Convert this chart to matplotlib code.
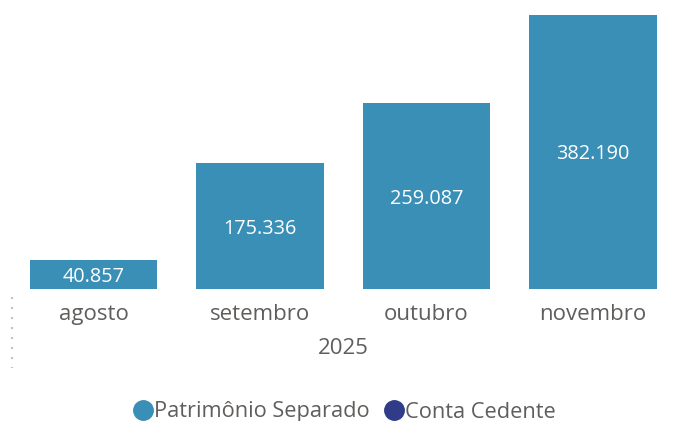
import matplotlib
matplotlib.use('Agg')
import matplotlib.pyplot as plt
from matplotlib.lines import Line2D

plt.rcParams['font.family'] = ['Open Sans', 'DejaVu Sans']

meses = ['agosto', 'setembro', 'outubro', 'novembro']
patrimonio = [40857, 175336, 259087, 382190]
ano = '2025'
series = ['Patrimônio Separado', 'Conta Cedente']
cores = ['#3A8FB6', '#313C88']
cinza = '#605E5C'

fig = plt.figure(figsize=(6.77, 4.21), dpi=100)
ax = fig.add_axes([10.25 / 677, 1 - 289 / 421, 666 / 677, 286.8 / 421])

x = range(len(meses))
bars = ax.bar(x, patrimonio, width=0.765, color=cores[0])
for b, v in zip(bars, patrimonio):
    txt = f'{v:,}'.replace(',', '.')
    ax.text(b.get_x() + b.get_width() / 2, v / 2, txt, ha='center', va='center_baseline',
            color='white', fontsize=14.3)

ax.set_xlim(-0.5, 3.5)
ax.set_ylim(0, 400000)
ax.set_xticks(list(x))
ax.set_xticklabels(meses, fontsize=16, color=cinza)
ax.tick_params(axis='x', length=0, pad=11)
ax.set_yticks([])
for s in ax.spines.values():
    s.set_visible(False)

fig.text(343 / 677, 1 - 349 / 421, ano, ha='center', va='center', fontsize=16, color=cinza)

# linha pontilhada à esquerda
fig.add_artist(Line2D([12 / 677, 12 / 677], [1 - 297 / 421, 1 - 368 / 421],
                      transform=fig.transFigure, color='#C0C0C0', lw=1.5,
                      linestyle=(0, (1, 3.8))))

# legenda
handles = [Line2D([], [], marker='o', linestyle='', markersize=14, color=c) for c in cores]
fig.legend(handles, series, loc='center', bbox_to_anchor=(343 / 677, 1 - 412 / 421),
           ncol=2, frameon=False, fontsize=15.7, labelcolor=cinza,
           handletextpad=-0.1, columnspacing=0.5, handlelength=1.2)

fig.savefig('out.png', dpi=100)
